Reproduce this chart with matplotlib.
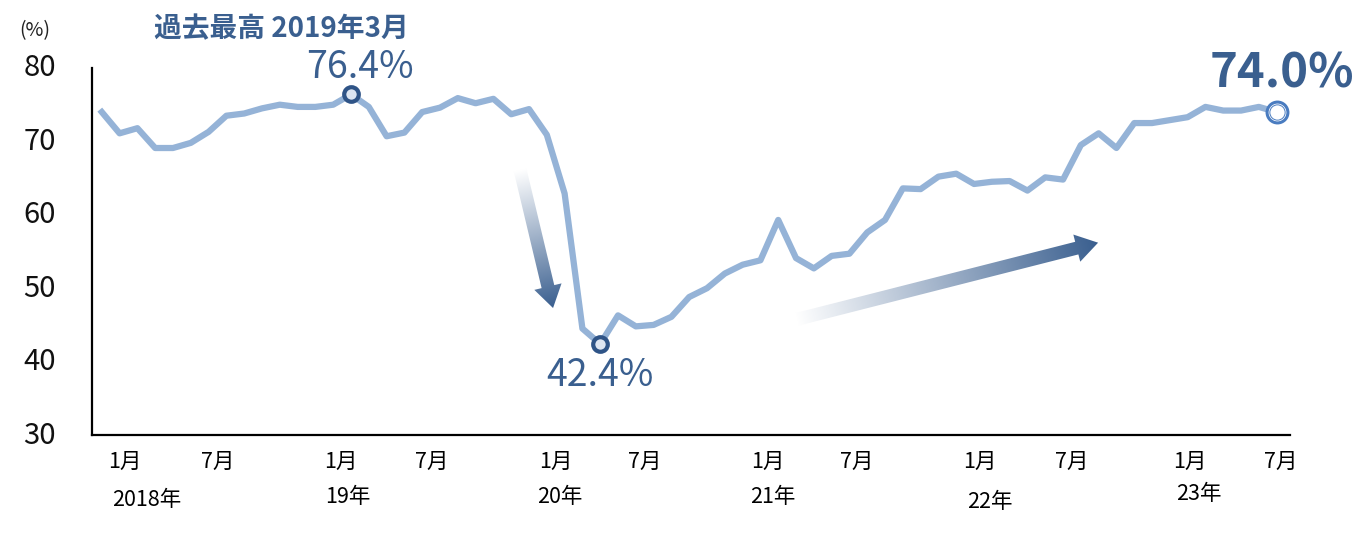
import numpy as np
import matplotlib
matplotlib.use('Agg')
import matplotlib.pyplot as plt
from matplotlib.colors import LinearSegmentedColormap
from matplotlib.patches import Polygon
from matplotlib.transforms import blended_transform_factory, ScaledTranslation

plt.rcParams['font.family'] = ['Noto Sans CJK JP', 'DejaVu Sans']

# monthly values, Jan 2018 .. Jul 2023 (%)
values = [74.0, 71.1, 71.8, 69.1, 69.1, 69.8, 71.3, 73.5, 73.8, 74.5, 75.0, 74.7,
          74.7, 75.0, 76.4, 74.7, 70.7, 71.2,
          74.0, 74.6, 75.9, 75.2, 75.8, 73.7, 74.4, 70.9, 62.9, 44.5, 42.4,
          46.3, 44.8, 45.0, 46.1, 48.8, 50.0, 52.0, 53.2, 53.8, 59.3, 54.1, 52.7,
          54.4, 54.7, 57.6, 59.3, 63.6,
          63.5, 65.2, 65.6, 64.2, 64.5, 64.6, 63.3, 65.1, 64.8, 69.5, 71.1, 69.1,
          72.5, 72.5, 72.9, 73.3, 74.7, 74.2, 74.2, 74.7, 74.0]
months = np.arange(len(values))

peak_idx = 14      # 2019年3月
low_idx = 28
last_idx = len(values) - 1

month_labels = ['1月', '7月'] * 6
month_pos = [1.3, 6.5, 13.4, 18.55, 25.5, 30.5, 37.4, 42.4, 49.3, 54.5, 61.1, 66.2]
year_labels = ['2018年', '19年', '20年', '21年', '22年', '23年']
year_pos = [2.55, 13.8, 25.75, 37.7, 49.9, 61.65]
year_y = [-0.177, -0.169, -0.169, -0.169, -0.183, -0.161]

yticks = [30, 40, 50, 60, 70, 80]

line_color = '#95b3d7'
dark = '#3a5f8f'

fig = plt.figure(figsize=(13.65, 5.44), dpi=100)
W, H = 1365, 544
ax = fig.add_axes([92 / W, 1 - 435 / H, (1290 - 92) / W, (435 - 68) / H])

ax.plot(months, values, color=line_color, lw=4.5, solid_joinstyle='round', zorder=3)

# markers
for i in (peak_idx, low_idx):
    ax.plot(months[i], values[i], 'o', ms=10.5, mfc='#dde5f1', mec='#2f5487', mew=3, zorder=5)
ax.plot(months[last_idx], values[last_idx], 'o', ms=15, mfc='white', mec='#4a7cc0', mew=2.2, zorder=5)
ax.plot(months[last_idx], values[last_idx], 'o', ms=11, mfc='none', mec='#4a7cc0', mew=0.7, zorder=6)

ax.set_xlim(-0.55, 66.75)
ax.set_ylim(30, 80)
ax.set_yticks(yticks)
ax.set_yticklabels([str(v) for v in yticks], fontsize=21, color='#111111')
ax.tick_params(axis='y', length=0, pad=26)
shift = ScaledTranslation(0, 0.03, fig.dpi_scale_trans)
for lab in ax.get_yticklabels():
    lab.set_transform(lab.get_transform() + shift)
ax.set_xticks([])
for s in ('top', 'right'):
    ax.spines[s].set_visible(False)
for s in ('left', 'bottom'):
    ax.spines[s].set_linewidth(1.6)
    ax.spines[s].set_color('black')

trans = blended_transform_factory(ax.transData, ax.transAxes)
for lab, p in zip(month_labels, month_pos):
    ax.text(p, -0.074, lab, transform=trans, ha='center', va='center', fontsize=15.5, color='black')
for lab, p, yy in zip(year_labels, year_pos, year_y):
    ax.text(p, yy, lab, transform=trans, ha='center', va='center', fontsize=15.5, color='black')

fig.text(35 / W, 1 - 31 / H, '(%)', ha='center', va='center', fontsize=14, color='#222222')
fig.text(281 / W, 1 - 29 / H, '過去最高 2019年3月', ha='center', va='center',
         fontsize=20, fontweight='bold', color=dark)

ax.annotate(f'{values[peak_idx]:.1f}%', (months[peak_idx], values[peak_idx]),
            xytext=(6.5, 19.5), textcoords='offset points', ha='center', va='center',
            fontsize=27, color=dark, zorder=7)
ax.annotate(f'{values[low_idx]:.1f}%', (months[low_idx], values[low_idx]),
            xytext=(0, -23), textcoords='offset points', ha='center', va='center',
            fontsize=27, color=dark, zorder=7)
ax.annotate(f'{values[last_idx]:.1f}%', (months[last_idx], values[last_idx]),
            xytext=(3.6, 28), textcoords='offset points', ha='center', va='center',
            fontsize=34, fontweight='bold', color=dark, zorder=7)

# gradient arrows, drawn on a pixel overlay
ov = fig.add_axes([0, 0, 1, 1], zorder=-1)
ov.set_xlim(0, W)
ov.set_ylim(0, H)
ov.axis('off')

cmap = LinearSegmentedColormap.from_list('fade', ['#ffffff', '#3a5f8f'])


def gradient_arrow(start, end, body=6.5, head=14, head_len=22):
    p0 = ax.transData.transform(start)
    p1 = ax.transData.transform(end)
    d = p1 - p0
    length = np.hypot(*d)
    u = d / length
    n = np.array([-u[1], u[0]])
    b = p1 - u * head_len
    pts = [p0 + n * body, b + n * body, b + n * head, p1,
           b - n * head, b - n * body, p0 - n * body]
    poly = Polygon(pts, closed=True, facecolor='none', edgecolor='none', transform=ov.transData)
    ov.add_patch(poly)
    xs = [p[0] for p in pts]
    ys = [p[1] for p in pts]
    x0, x1 = min(xs) - 2, max(xs) + 2
    y0, y1 = min(ys) - 2, max(ys) + 2
    gx, gy = np.meshgrid(np.linspace(x0, x1, 300), np.linspace(y0, y1, 300))
    t = ((gx - p0[0]) * u[0] + (gy - p0[1]) * u[1]) / length
    t = np.clip(t, 0, 1)
    im = ov.imshow(t, extent=(x0, x1, y0, y1), origin='lower', cmap=cmap,
                   vmin=0, vmax=1, aspect='auto', interpolation='bilinear')
    im.set_clip_path(poly)


gradient_arrow((23.5, 66.1), (25.35, 47.3))
gradient_arrow((38.96, 45.7), (55.97, 56.2))
ov.set_xlim(0, W)
ov.set_ylim(0, H)

ax.patch.set_alpha(0)
fig.savefig('out.png', dpi=100)
